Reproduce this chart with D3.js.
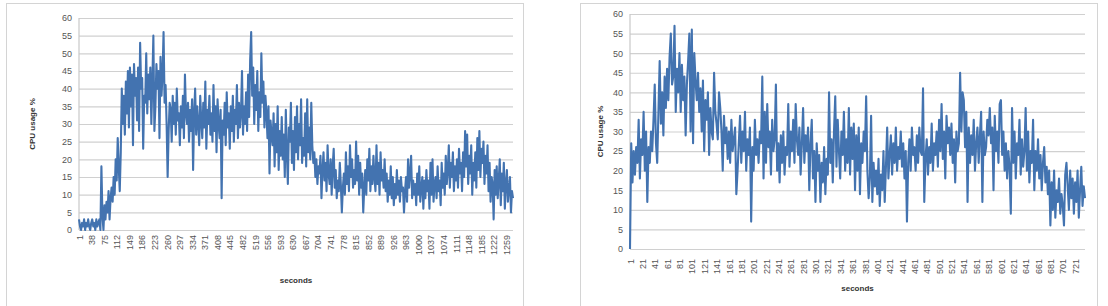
<!DOCTYPE html>
<html><head><meta charset="utf-8">
<script src="https://cdn.jsdelivr.net/npm/d3@7"></script>
<style>body{margin:0;background:#fff}svg{display:block}</style>
</head><body>
<svg id="c" width="1108" height="306"></svg>
<script>
// ---- data (sampled every leftStep / rightStep seconds) ----
const leftStep = 3;
const leftCount = 1279;
const leftCpu = [
3,1,0,2,1,3,0,2,1,3,
1,0,2,3,1,2,0,3,1,2,
3,0,18,4,0,7,3,8,5,11,
3,9,12,8,15,10,20,14,26,18,
11,22,40,30,38,27,42,33,45,29,
46,35,44,24,47,38,43,31,46,28,
53,40,43,23,38,36,50,33,44,37,
46,30,42,55,28,35,47,40,45,26,
49,38,44,56,36,41,30,15,28,36,
34,25,38,30,36,27,40,31,33,24,
35,29,38,26,44,33,30,36,25,34,
28,37,17,33,40,27,35,30,24,38,
31,26,36,29,42,23,34,30,38,27,
33,25,41,28,35,22,37,30,26,34,
9,31,27,36,24,39,29,33,23,35,
28,38,25,34,30,41,26,36,29,33,
45,27,35,30,39,28,44,32,48,56,
38,46,30,41,34,45,28,39,32,50,
36,42,29,38,33,26,35,16,31,27,
24,33,18,30,22,35,17,28,21,32,
20,27,15,34,22,13,29,25,36,19,
28,17,32,22,35,20,30,24,37,19,
26,21,33,18,37,22,29,20,36,24,
19,22,15,20,13,18,16,21,9,17,
22,14,19,11,24,16,13,20,10,18,
23,12,17,9,14,11,19,13,5,12,
16,10,22,13,18,11,24,15,20,12,
17,13,25,14,21,10,19,12,16,5,
12,17,10,20,14,23,11,18,13,21,
15,11,24,13,19,10,22,14,17,12,
20,11,16,8,14,10,18,9,15,7,
13,9,17,10,14,8,15,11,12,5,
11,15,8,20,12,16,21,9,14,10,
13,7,16,10,18,8,12,15,6,14,
9,17,11,14,6,19,10,20,8,13,
15,9,18,11,14,7,19,12,16,10,
21,13,17,24,12,19,15,22,11,18,
14,20,12,23,16,19,11,22,15,28,
18,27,13,21,16,24,10,19,14,22,
12,26,17,28,15,23,19,25,13,21,
16,24,11,19,8,15,13,3,17,10,
18,9,14,20,7,16,11,19,6,13,
17,8,12,15,5,11,9
];
const rightStep = 2;
const rightCount = 737;
const rightCpu = [
0,27,17,25,19,26,22,33,18,28,
24,35,20,30,12,26,22,30,25,33,
42,27,22,35,48,32,40,29,44,36,
46,38,49,55,42,44,57,35,46,40,
50,35,47,38,44,29,42,48,55,30,
56,27,50,43,38,45,35,41,30,43,
25,38,33,40,24,36,30,28,45,35,
32,28,40,36,30,20,34,27,31,23,
30,22,33,25,28,31,14,20,27,34,
22,30,25,35,20,28,24,31,7,26,
20,33,24,28,22,30,27,44,18,35,
22,37,26,30,19,33,25,28,42,20,
27,17,29,22,30,19,26,24,37,21,
30,25,33,22,37,28,24,31,19,27,
36,22,29,25,31,15,27,33,18,25,
12,27,20,24,12,22,17,26,14,23,
19,40,22,28,17,30,39,21,33,25,
18,30,24,35,20,28,22,36,19,31,
23,32,15,29,20,31,14,27,22,30,
25,39,20,13,18,34,12,22,16,20,
14,23,11,19,15,25,12,21,31,18,
24,29,19,27,22,31,20,26,23,30,
21,27,18,25,7,22,28,20,31,24,
26,20,29,22,31,25,24,41,12,23,
28,19,26,22,32,20,27,24,30,21,
33,25,37,23,30,18,34,27,31,24,
32,22,28,17,30,25,27,45,30,40,
38,26,35,12,31,22,29,24,33,20,
27,31,22,29,35,12,30,24,26,33,
29,36,27,31,15,34,25,30,22,37,
38,24,30,20,27,18,25,21,9,36,
22,30,18,27,24,33,19,28,21,25,
36,20,30,17,25,22,33,15,25,20,
28,18,24,15,22,26,17,21,14,20,
6,17,10,20,8,15,12,18,9,14,
11,6,19,22,16,10,20,13,18,9,
17,12,20,8,15,21,11,16,13
];
const leftTickLabels = [1,38,75,112,149,186,223,260,297,334,371,408,445,482,519,556,593,630,667,704,741,778,815,852,889,926,963,1000,1037,1074,1111,1148,1185,1222,1259];
const rightTickLabels = [1,21,41,61,81,101,121,141,161,181,201,221,241,261,281,301,321,341,361,381,401,421,441,461,481,501,521,541,561,581,601,621,641,661,681,701,721];
const yTickValues = [0,5,10,15,20,25,30,35,40,45,50,55,60];
const yTitle = "CPU usage %";
const xTitle = "seconds";

const svg = d3.select("#c");
const FONT = "'Liberation Sans', Arial, sans-serif";

function panel(cfg) {
  const g = svg.append("g");
  g.append("rect")
    .attr("x", cfg.box[0]).attr("y", cfg.box[1])
    .attr("width", cfg.box[2]).attr("height", cfg.box[3])
    .attr("fill", "#fff").attr("stroke", "#d4d4d4").attr("stroke-width", 1);

  const x = d3.scaleLinear().domain([1, cfg.count]).range([cfg.l, cfg.r]);
  const y = d3.scaleLinear().domain([0, 60]).range([cfg.b, cfg.t]);

  const ya = g.append("g").attr("transform", `translate(${cfg.l},0)`)
    .call(d3.axisLeft(y).tickValues(yTickValues).tickSize(-(cfg.r - cfg.l)).tickPadding(7));
  ya.select(".domain").remove();
  ya.selectAll(".tick line").attr("stroke", "#d0d0d0").attr("stroke-width", 1.2);
  ya.selectAll(".tick text").attr("fill", "#555").style("font-family", FONT).style("font-size", "9px");

  g.append("line").attr("x1", cfg.l).attr("x2", cfg.l).attr("y1", y(60)).attr("y2", y(0))
    .attr("stroke", "#c8c8c8").attr("stroke-width", 1.2);

  const xa = g.append("g").attr("transform", `translate(0,${cfg.b})`)
    .call(d3.axisBottom(x).tickValues(cfg.ticks).tickSize(0).tickFormat(d => d));
  xa.select(".domain").remove();
  xa.selectAll(".tick text")
    .attr("transform", "rotate(-90)")
    .attr("text-anchor", "end")
    .attr("x", -cfg.labelGap).attr("y", 0).attr("dy", "0.35em")
    .attr("fill", "#555").style("font-family", FONT).style("font-size", "9px");

  const line = d3.line().x((d, i) => x(1 + cfg.step * i)).y(d => y(d));
  g.append("path").datum(cfg.data)
    .attr("d", line).attr("fill", "none")
    .attr("stroke", "#4373b0").attr("stroke-width", 2.1).attr("stroke-linejoin", "round");

  g.append("text").text(yTitle)
    .attr("transform", `translate(${cfg.yTitleX},${(cfg.t + cfg.b) / 2}) rotate(-90)`)
    .attr("text-anchor", "middle").attr("fill", "#333")
    .style("font-family", FONT).style("font-size", "8px").style("font-weight", "bold");
  g.append("text").text(xTitle)
    .attr("x", (cfg.l + cfg.r) / 2).attr("y", cfg.xTitleY)
    .attr("text-anchor", "middle").attr("fill", "#333")
    .style("font-family", FONT).style("font-size", "8px").style("font-weight", "bold");
}

panel({box: [6.5, 3.5, 517, 330], l: 79, r: 513, t: 18, b: 230,
  count: leftCount, step: leftStep, data: leftCpu, ticks: leftTickLabels,
  labelGap: 5, yTitleX: 35, xTitleY: 283});
panel({box: [580.5, 3.5, 517, 330], l: 630, r: 1085, t: 14, b: 249,
  count: rightCount, step: rightStep, data: rightCpu, ticks: rightTickLabels,
  labelGap: 10, yTitleX: 603, xTitleY: 291});
</script>
</body></html>
